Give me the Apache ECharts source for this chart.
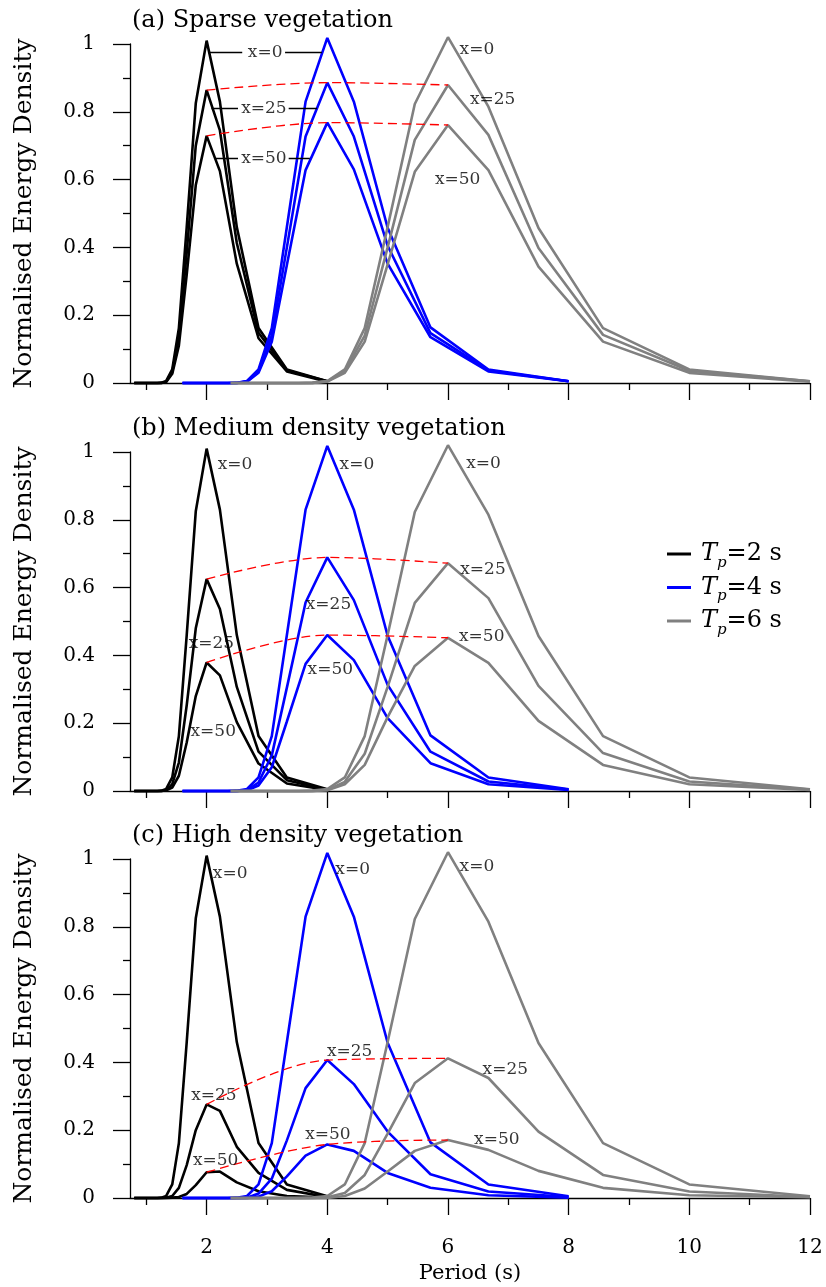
<!DOCTYPE html>
<html>
<head>
<meta charset="utf-8">
<script src="https://cdn.jsdelivr.net/npm/echarts@6/dist/echarts.min.js"></script>
<style>
  html, body { margin: 0; padding: 0; background: #fff; }
  #chart { width: 826px; height: 1287px; }
</style>
</head>
<body>
<div id="chart"></div>
<script>
// periods (s) of the spectral bins, ascending
const tp2Periods = [0.8, 0.83, 0.87, 0.91, 0.95, 1.0, 1.05, 1.11, 1.18, 1.25, 1.33, 1.43, 1.54, 1.67, 1.82, 2.0, 2.22, 2.5, 2.86, 3.33, 4.0];
const tp4Periods = [1.6, 1.67, 1.74, 1.82, 1.9, 2.0, 2.11, 2.22, 2.35, 2.5, 2.67, 2.86, 3.08, 3.33, 3.64, 4.0, 4.44, 5.0, 5.71, 6.67, 8.0];
const tp6Periods = [2.4, 2.5, 2.61, 2.73, 2.86, 3.0, 3.16, 3.33, 3.53, 3.75, 4.0, 4.29, 4.62, 5.0, 5.45, 6.0, 6.67, 7.5, 8.57, 10.0, 12.0];

// incident spectra (x=0), same in every panel
const tp2X0 = [0, 0, 0, 0, 0, 0, 0, 0, 0, 0.001, 0.006, 0.04, 0.162, 0.46, 0.825, 1.01, 0.83, 0.46, 0.162, 0.04, 0.005];
const tp4X0 = [0, 0, 0, 0, 0, 0, 0, 0, 0, 0.001, 0.006, 0.04, 0.162, 0.46, 0.83, 1.018, 0.83, 0.458, 0.164, 0.04, 0.005];
const tp6X0 = [0, 0, 0, 0, 0, 0, 0, 0, 0, 0.001, 0.006, 0.04, 0.162, 0.46, 0.823, 1.02, 0.815, 0.457, 0.162, 0.04, 0.005];

// (a) sparse
const sparseTp2X25 = [0, 0, 0, 0, 0, 0, 0, 0, 0, 0, 0.004, 0.033, 0.135, 0.385, 0.70, 0.864, 0.745, 0.413, 0.148, 0.037, 0.005];
const sparseTp2X50 = [0, 0, 0, 0, 0, 0, 0, 0, 0, 0, 0.003, 0.027, 0.11, 0.32, 0.584, 0.729, 0.625, 0.352, 0.132, 0.034, 0.004];
const sparseTp4X25 = [0, 0, 0, 0, 0, 0, 0, 0, 0, 0, 0.005, 0.034, 0.14, 0.40, 0.727, 0.886, 0.727, 0.405, 0.147, 0.037, 0.005];
const sparseTp4X50 = [0, 0, 0, 0, 0, 0, 0, 0, 0, 0, 0.004, 0.03, 0.122, 0.348, 0.628, 0.768, 0.63, 0.352, 0.135, 0.034, 0.005];
const sparseTp6X25 = [0, 0, 0, 0, 0, 0, 0, 0, 0, 0, 0.005, 0.035, 0.14, 0.40, 0.717, 0.879, 0.732, 0.398, 0.142, 0.036, 0.005];
const sparseTp6X50 = [0, 0, 0, 0, 0, 0, 0, 0, 0, 0, 0.004, 0.03, 0.122, 0.35, 0.623, 0.761, 0.628, 0.343, 0.122, 0.03, 0.004];

// (b) medium
const mediumTp2X25 = [0, 0, 0, 0, 0, 0, 0, 0, 0, 0, 0.002, 0.02, 0.084, 0.253, 0.48, 0.625, 0.537, 0.307, 0.116, 0.032, 0.004];
const mediumTp2X50 = [0, 0, 0, 0, 0, 0, 0, 0, 0, 0, 0.002, 0.01, 0.045, 0.143, 0.28, 0.379, 0.341, 0.203, 0.081, 0.022, 0.003];
const mediumTp4X25 = [0, 0, 0, 0, 0, 0, 0, 0, 0, 0, 0.003, 0.025, 0.105, 0.305, 0.556, 0.689, 0.563, 0.313, 0.116, 0.028, 0.004];
const mediumTp4X50 = [0, 0, 0, 0, 0, 0, 0, 0, 0, 0, 0.002, 0.016, 0.07, 0.205, 0.375, 0.46, 0.386, 0.215, 0.082, 0.02, 0.003];
const mediumTp6X25 = [0, 0, 0, 0, 0, 0, 0, 0, 0, 0, 0.003, 0.027, 0.11, 0.307, 0.555, 0.672, 0.569, 0.31, 0.112, 0.028, 0.004];
const mediumTp6X50 = [0, 0, 0, 0, 0, 0, 0, 0, 0, 0, 0.002, 0.02, 0.077, 0.218, 0.369, 0.452, 0.378, 0.207, 0.077, 0.02, 0.003];

// (c) high
const highTp2X25 = [0, 0, 0, 0, 0, 0, 0, 0, 0, 0, 0.001, 0.006, 0.03, 0.097, 0.2, 0.276, 0.257, 0.151, 0.074, 0.024, 0.003];
const highTp2X50 = [0, 0, 0, 0, 0, 0, 0, 0, 0, 0, 0, 0.001, 0.003, 0.012, 0.038, 0.076, 0.078, 0.046, 0.02, 0.006, 0.001];
const highTp4X25 = [0, 0, 0, 0, 0, 0, 0, 0, 0, 0, 0.001, 0.013, 0.057, 0.17, 0.324, 0.407, 0.336, 0.196, 0.07, 0.019, 0.003];
const highTp4X50 = [0, 0, 0, 0, 0, 0, 0, 0, 0, 0, 0, 0.004, 0.02, 0.064, 0.125, 0.158, 0.139, 0.074, 0.03, 0.008, 0.001];
const highTp6X25 = [0, 0, 0, 0, 0, 0, 0, 0, 0, 0, 0.002, 0.015, 0.068, 0.19, 0.339, 0.412, 0.354, 0.196, 0.068, 0.019, 0.003];
const highTp6X50 = [0, 0, 0, 0, 0, 0, 0, 0, 0, 0, 0, 0.006, 0.028, 0.078, 0.139, 0.171, 0.142, 0.08, 0.03, 0.008, 0.002];

// peak values joined by the red dashed lines
const peakPeriods = [2, 4, 6];
const sparsePeak25 = [0.864, 0.886, 0.879];
const sparsePeak50 = [0.729, 0.768, 0.761];
const mediumPeak25 = [0.625, 0.689, 0.672];
const mediumPeak50 = [0.379, 0.46, 0.452];
const highPeak25 = [0.276, 0.407, 0.412];
const highPeak50 = [0.076, 0.158, 0.171];

const panelTitles = ['(a) Sparse vegetation', '(b) Medium density vegetation', '(c) High density vegetation'];
const tpNames = ['Tp=2 s', 'Tp=4 s', 'Tp=6 s'];
const tpColors = ['#000000', '#0000ff', '#808080'];
const majorTicks = [2, 4, 6, 8, 10, 12];
const minorTicks = [1, 3, 5, 7, 9, 11];

// "x=.." annotations [period, value, text]
const sparseLabels = [[2.97, 0.976, 'x=0'], [2.95, 0.81, 'x=25'], [2.95, 0.663, 'x=50'],
  [6.48, 0.984, 'x=0'], [6.74, 0.835, 'x=25'], [6.16, 0.601, 'x=50']];
const mediumLabels = [[2.47, 0.962, 'x=0'], [2.08, 0.436, 'x=25'], [2.11, 0.175, 'x=50'],
  [4.49, 0.962, 'x=0'], [4.02, 0.549, 'x=25'], [4.05, 0.357, 'x=50'],
  [6.59, 0.967, 'x=0'], [6.58, 0.652, 'x=25'], [6.56, 0.455, 'x=50']];
const highLabels = [[2.39, 0.956, 'x=0'], [2.12, 0.301, 'x=25'], [2.15, 0.109, 'x=50'],
  [4.42, 0.968, 'x=0'], [4.37, 0.432, 'x=25'], [4.01, 0.186, 'x=50'],
  [6.48, 0.977, 'x=0'], [6.95, 0.378, 'x=25'], [6.81, 0.173, 'x=50']];
// leader lines in panel (a)
const sparseLeaders = [
  [[2.04, 0.976], [2.59, 0.976]], [[3.30, 0.976], [3.91, 0.976]],
  [[2.08, 0.81], [2.52, 0.81]], [[3.36, 0.81], [3.83, 0.81]],
  [[2.14, 0.663], [2.52, 0.663]], [[3.36, 0.663], [3.71, 0.663]]
];

const FONT = 'DejaVu Serif';
const gridTops = [44, 452, 859];

const panels = [
  { curves: [[tp2X0, sparseTp2X25, sparseTp2X50], [tp4X0, sparseTp4X25, sparseTp4X50], [tp6X0, sparseTp6X25, sparseTp6X50]],
    peaks: [sparsePeak25, sparsePeak50], labels: sparseLabels, leaders: sparseLeaders },
  { curves: [[tp2X0, mediumTp2X25, mediumTp2X50], [tp4X0, mediumTp4X25, mediumTp4X50], [tp6X0, mediumTp6X25, mediumTp6X50]],
    peaks: [mediumPeak25, mediumPeak50], labels: mediumLabels, leaders: [] },
  { curves: [[tp2X0, highTp2X25, highTp2X50], [tp4X0, highTp4X25, highTp4X50], [tp6X0, highTp6X25, highTp6X50]],
    peaks: [highPeak25, highPeak50], labels: highLabels, leaders: [] }
];
const periodSets = [tp2Periods, tp4Periods, tp6Periods];

const pair = (xs, ys) => xs.map((x, i) => [x, ys[i]]);

const grids = [], xAxes = [], yAxes = [], titles = [], series = [];
const lineCol = { color: '#000', width: 1.3 };

panels.forEach((p, i) => {
  grids.push({ left: 130, right: 16, top: gridTops[i], height: 339, outerBoundsMode: 'none' });
  titles.push({
    text: panelTitles[i], left: 127, top: gridTops[i] - 40,
    textStyle: { fontFamily: FONT, fontSize: 24, fontWeight: 'normal', color: '#000' }
  });
  // major x axis
  xAxes.push({
    gridIndex: i, type: 'value', min: 0.73, max: 12, position: 'bottom',
    axisLine: { show: true, onZero: false, lineStyle: lineCol },
    axisTick: { show: true, length: 17, customValues: majorTicks, lineStyle: lineCol },
    axisLabel: { show: i === 2, customValues: majorTicks, margin: 40, fontFamily: FONT, fontSize: 20, color: '#000' },
    splitLine: { show: false },
    name: i === 2 ? 'Period (s)' : '', nameLocation: 'middle', nameGap: 65,
    nameTextStyle: { fontFamily: FONT, fontSize: 21, color: '#000' }
  });
  // minor x ticks
  xAxes.push({
    gridIndex: i, type: 'value', min: 0.73, max: 12, position: 'bottom',
    axisLine: { show: false },
    axisTick: { show: true, length: 7, customValues: minorTicks, lineStyle: lineCol },
    axisLabel: { show: false },
    splitLine: { show: false }
  });
  yAxes.push({
    gridIndex: i, type: 'value', min: 0, max: 1, interval: 0.2,
    name: 'Normalised Energy Density', nameLocation: 'middle', nameRotate: 90, nameGap: 93,
    nameTextStyle: { fontFamily: FONT, fontSize: 25, color: '#000' },
    axisLine: { show: true, lineStyle: lineCol },
    axisTick: { show: true, length: 17, lineStyle: lineCol },
    minorTick: { show: true, splitNumber: 2, length: 7, lineStyle: lineCol },
    axisLabel: { margin: 35, fontFamily: FONT, fontSize: 20, color: '#000' },
    splitLine: { show: false }
  });

  p.curves.forEach((set, k) => {
    set.forEach(vals => {
      series.push({
        type: 'line', name: tpNames[k], xAxisIndex: 2 * i, yAxisIndex: i,
        data: pair(periodSets[k], vals), showSymbol: false, clip: false,
        color: tpColors[k], lineStyle: { color: tpColors[k], width: 2.6 },
        silent: true, z: 2
      });
    });
  });
  p.peaks.forEach(vals => {
    series.push({
      type: 'line', xAxisIndex: 2 * i, yAxisIndex: i,
      data: pair(peakPeriods, vals), showSymbol: false, smooth: 0.35, clip: false,
      lineStyle: { color: '#ff0000', width: 1.3, type: [9, 5] }, silent: true, z: 3
    });
  });
  if (p.leaders.length) {
    series.push({
      type: 'lines', coordinateSystem: 'cartesian2d', xAxisIndex: 2 * i, yAxisIndex: i,
      data: p.leaders.map(c => ({ coords: c })),
      lineStyle: { color: '#000', width: 1.4, opacity: 1, curveness: 0 }, silent: true, z: 4
    });
  }
  series.push({
    type: 'scatter', xAxisIndex: 2 * i, yAxisIndex: i,
    data: p.labels, symbolSize: 0, silent: true, z: 5,
    itemStyle: { color: '#000' },
    label: {
      show: true, position: 'inside', formatter: d => d.value[2],
      fontFamily: FONT, fontSize: 17, color: '#000',
      textBorderWidth: 0, textBorderColor: 'transparent'
    }
  });
});

const chart = echarts.init(document.getElementById('chart'), null, { renderer: 'canvas' });
chart.setOption({
  animation: false,
  backgroundColor: '#fff',
  title: titles,
  grid: grids,
  xAxis: xAxes,
  yAxis: yAxes,
  legend: {
    data: tpNames, orient: 'vertical', left: 662, top: 537,
    icon: 'rect', itemWidth: 24, itemHeight: 3, itemGap: 5, selectedMode: false,
    formatter: n => '{t|T}{p|p}{v|' + n.slice(2) + '}',
    textStyle: {
      fontFamily: FONT, color: '#000',
      rich: {
        t: { fontFamily: FONT, fontStyle: 'italic', fontSize: 24, padding: [0, 0, 0, 5] },
        p: { fontFamily: FONT, fontStyle: 'italic', fontSize: 15, padding: [18, 0, 0, 0] },
        v: { fontFamily: FONT, fontSize: 24 }
      }
    }
  },
  series: series
});
window.addEventListener('resize', () => { chart && chart.resize(); });
</script>
</body>
</html>
